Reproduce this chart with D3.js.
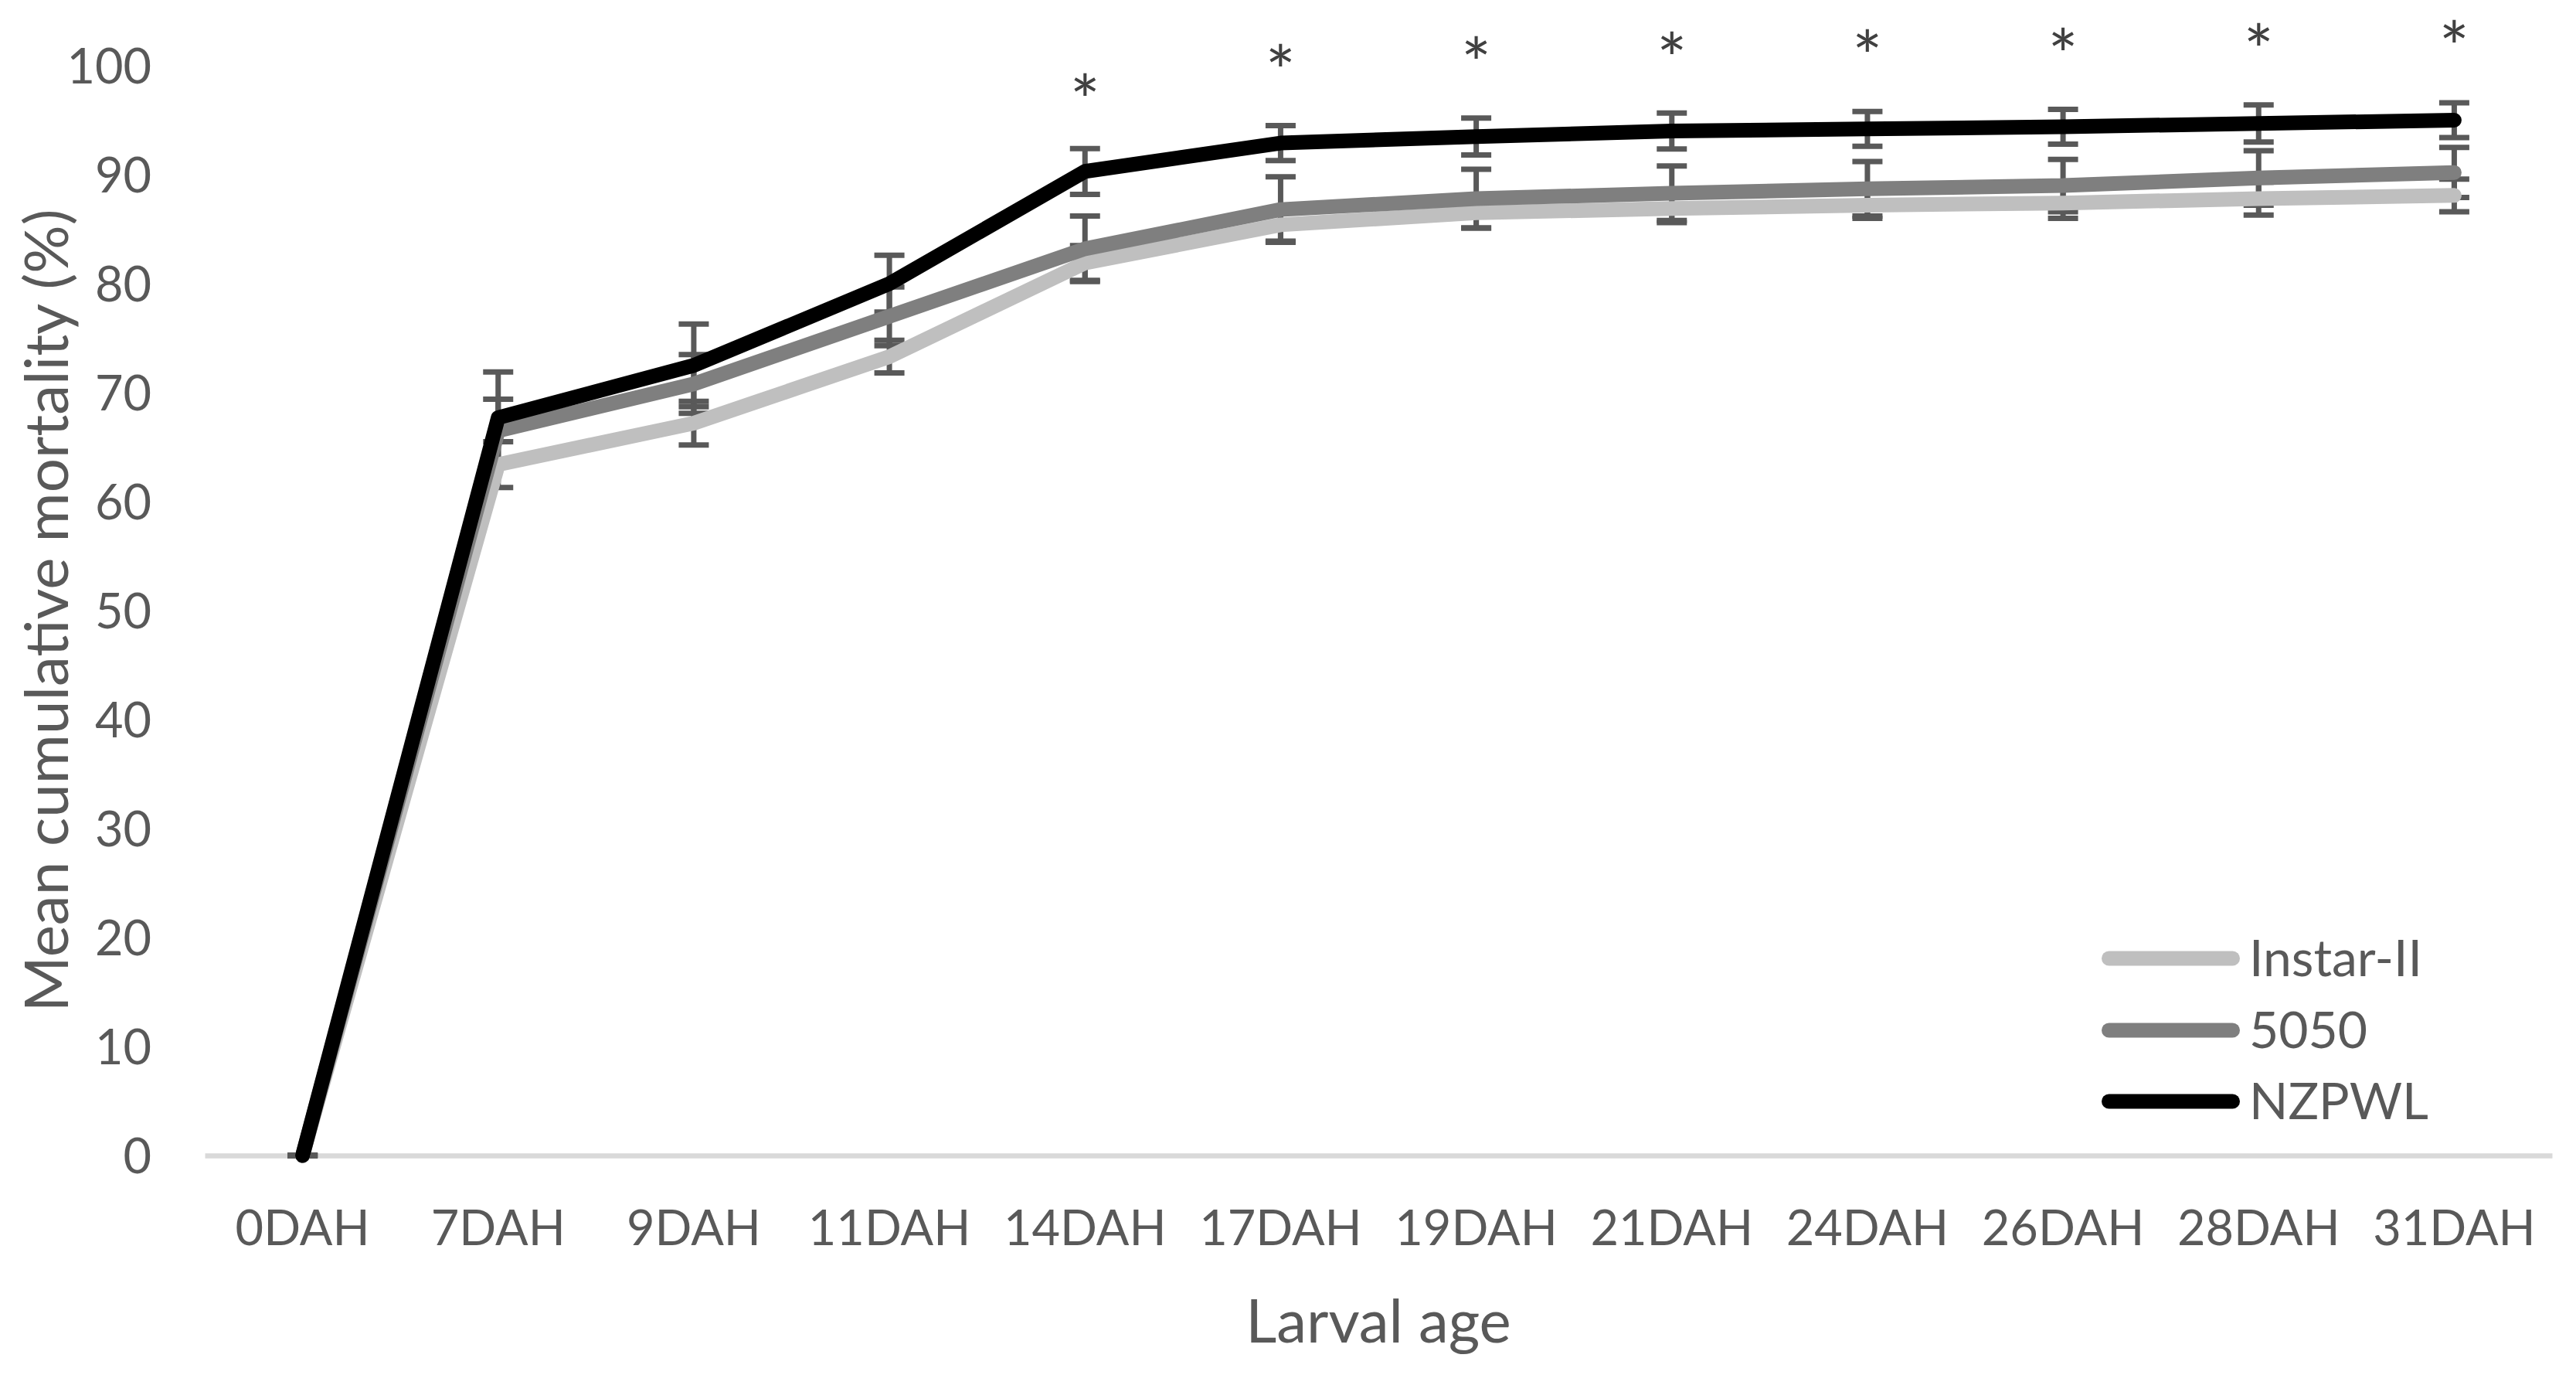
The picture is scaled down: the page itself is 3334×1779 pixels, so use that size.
<!DOCTYPE html>
<html>
<head>
<meta charset="utf-8">
<script src="https://cdnjs.cloudflare.com/ajax/libs/d3/7.8.5/d3.min.js"></script>
<style>
  html, body { margin: 0; padding: 0; background: #ffffff; }
  svg { display: block; }
</style>
</head>
<body>
<script>
const categories = ["0DAH","7DAH","9DAH","11DAH","14DAH","17DAH","19DAH","21DAH","24DAH","26DAH","28DAH","31DAH"];
const seriesNames = ["Instar-II", "5050", "NZPWL"];
const instarValues = [0, 63.4, 67.2, 73.3, 81.9, 85.4, 86.5, 86.9, 87.2, 87.4, 87.8, 88.1];
const instarErrors = [0, 2.1, 2.0, 1.5, 1.6, 1.5, 1.4, 1.3, 1.2, 1.4, 1.5, 1.5];
const mix5050Values = [0, 66.5, 70.8, 77.0, 83.2, 86.8, 87.8, 88.3, 88.7, 89.0, 89.7, 90.2];
const mix5050Errors = [0, 2.9, 2.7, 2.7, 3.0, 3.0, 2.7, 2.5, 2.5, 2.4, 2.5, 2.3];
const nzpwlValues = [0, 67.7, 72.5, 80.0, 90.3, 92.9, 93.5, 94.0, 94.2, 94.4, 94.7, 95.0];
const nzpwlErrors = [0, 4.2, 3.8, 2.6, 2.1, 1.6, 1.7, 1.65, 1.6, 1.6, 1.7, 1.6];
const asteriskCategories = ["14DAH","17DAH","19DAH","21DAH","24DAH","26DAH","28DAH","31DAH"];
const asteriskLevels = [98.4, 101.1, 101.8, 102.2, 102.4, 102.6, 103.0, 103.3];
const yTicks = [0, 10, 20, 30, 40, 50, 60, 70, 80, 90, 100];
const yTitle = "Mean cumulative mortality (%)";
const xTitle = "Larval age";

(function () {
const W = 3334, H = 1779;
const plotLeft = 265, plotRight = 3303, plotTop = 85, plotBottom = 1495;
const textColor = "#595959";
const font = "Lato, 'Open Sans', sans-serif";
const tickSize = 63, legendSize = 66, titleSize = 78;

const svg = d3.select("body").append("svg").attr("width", W).attr("height", H);

const x = d3.scaleBand().domain(categories).range([plotLeft, plotRight]).padding(0);
const y = d3.scaleLinear().domain([0, 100]).range([plotBottom, plotTop]);
const cx = c => x(c) + x.bandwidth() / 2;

const series = [
  { name: seriesNames[0], values: instarValues, errors: instarErrors, color: "#bfbfbf" },
  { name: seriesNames[1], values: mix5050Values, errors: mix5050Errors, color: "#7f7f7f" },
  { name: seriesNames[2], values: nzpwlValues, errors: nzpwlErrors, color: "#000000" }
];

// x axis line
const xAxis = d3.axisBottom(x).tickSize(0).tickPadding(0);
const gx = svg.append("g").attr("transform", `translate(0,${plotBottom})`).call(xAxis);
gx.select(".domain").attr("stroke", "#d9d9d9").attr("stroke-width", 6.5);
gx.selectAll(".tick text")
  .attr("y", 116).attr("dy", 0)
  .attr("fill", textColor).attr("font-family", font).attr("font-size", tickSize);

// y axis labels
const yAxis = d3.axisLeft(y).tickValues(yTicks).tickSize(0).tickPadding(0);
const gy = svg.append("g").attr("transform", `translate(196,0)`).call(yAxis);
gy.select(".domain").remove();
gy.selectAll(".tick text")
  .attr("x", 0).attr("dy", "0.36em")
  .attr("fill", textColor).attr("font-family", font).attr("font-size", tickSize);

// error bars
const capHalf = 19.5;
series.forEach(s => {
  const g = svg.append("g").attr("stroke", "#595959").attr("stroke-width", 7);
  categories.forEach((c, i) => {
    const v = s.values[i], e = s.errors[i];
    const xx = cx(c);
    g.append("line").attr("x1", xx).attr("x2", xx).attr("y1", y(v + e)).attr("y2", y(v - e));
    g.append("line").attr("x1", xx - capHalf).attr("x2", xx + capHalf).attr("y1", y(v + e)).attr("y2", y(v + e));
    g.append("line").attr("x1", xx - capHalf).attr("x2", xx + capHalf).attr("y1", y(v - e)).attr("y2", y(v - e));
  });
});

// lines
const lineGen = d3.line().x((d, i) => cx(categories[i])).y(d => y(d));
series.forEach(s => {
  svg.append("path").datum(s.values)
    .attr("d", lineGen)
    .attr("fill", "none")
    .attr("stroke", s.color)
    .attr("stroke-width", 19)
    .attr("stroke-linejoin", "round")
    .attr("stroke-linecap", "round");
});

// asterisks
const astSize = 92;
svg.append("g").selectAll("text").data(asteriskCategories).join("text")
  .attr("x", d => cx(d))
  .attr("y", (d, i) => y(asteriskLevels[i]) + astSize * 0.6)
  .attr("text-anchor", "middle")
  .attr("fill", "#404040")
  .attr("font-family", "Lato, sans-serif")
  .attr("font-size", astSize)
  .text("*");

// legend
const legendRows = [1240, 1333, 1425];
const lg = svg.append("g");
series.forEach((s, i) => {
  lg.append("line")
    .attr("x1", 2729.5).attr("x2", 2889.5)
    .attr("y1", legendRows[i]).attr("y2", legendRows[i])
    .attr("stroke", s.color).attr("stroke-width", 19).attr("stroke-linecap", "round");
  lg.append("text")
    .attr("x", 2911).attr("y", legendRows[i] + 23)
    .attr("fill", textColor).attr("font-family", font).attr("font-size", legendSize)
    .text(s.name);
});

// axis titles
svg.append("text")
  .attr("x", (plotLeft + plotRight) / 2).attr("y", 1737)
  .attr("text-anchor", "middle")
  .attr("fill", textColor).attr("font-family", font).attr("font-size", titleSize)
  .text(xTitle);

svg.append("text")
  .attr("transform", `translate(88,${(plotTop + plotBottom) / 2}) rotate(-90)`)
  .attr("text-anchor", "middle")
  .attr("fill", textColor).attr("font-family", font).attr("font-size", titleSize)
  .text(yTitle);
})();
</script>
</body>
</html>
